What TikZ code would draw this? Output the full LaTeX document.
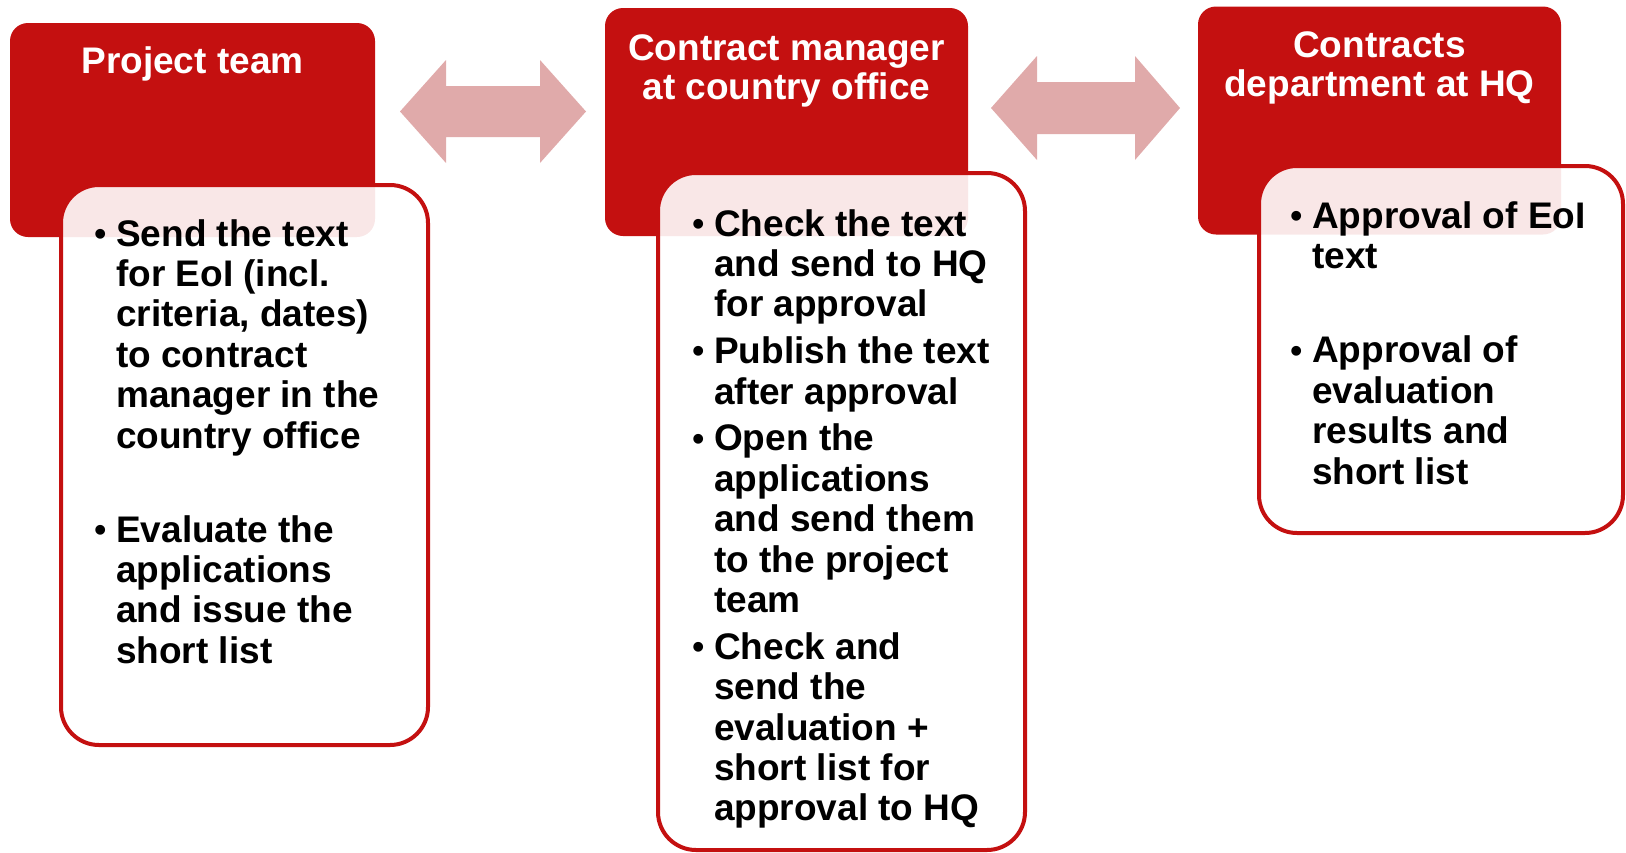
\documentclass[tikz,border=0pt]{standalone}
\usepackage{fontspec}
\setmainfont{Liberation Sans}
\definecolor{boxred}{RGB}{196,16,16}
\definecolor{arrowpink}{RGB}{224,170,170}
\newcommand\myhead[1]{\vtop{\halign{\hfil##\hfil\cr#1\crcr}}}
\newcommand\mybody[1]{\vtop{\halign{##\hfil\cr#1\crcr}}}
\newcommand\mybul{\llap{\raisebox{0.8pt}{\fontsize{34}{34}\selectfont\textbullet}\hskip 10pt}}
\begin{document}
\begin{tikzpicture}[x=1pt,y=-1pt,
  redbox/.style={fill=boxred, draw=none, rounded corners=18pt, inner sep=0pt},
  whitebox/.style={draw=boxred, line width=4pt, fill=white, fill opacity=0.9, draw opacity=1, rounded corners=38pt, inner sep=0pt},
  headtext/.style={inner sep=0pt, anchor=base, text=white, font=\bfseries\fontsize{37}{39}\selectfont},
  bodytext/.style={inner sep=0pt, anchor=base west, text=black, font=\bfseries\fontsize{37}{40.4}\selectfont},
  dblarrow/.style={fill=arrowpink, draw=none}]
\useasboundingbox (0,0) rectangle (1626,852);

% red header boxes
\node[redbox, minimum width=365pt, minimum height=214pt] (r1) at (192.5,130) {};
\node[redbox, minimum width=363pt, minimum height=228pt] (r2) at (786.5,122) {};
\node[redbox, minimum width=363pt, minimum height=228pt] (r3) at (1379.5,120.5) {};

% header texts
\node[headtext] (h1) at (192.5,73) {\myhead{Project team}};
\node[headtext] (h2) at (786.5,60) {\myhead{Contract manager\cr at country office}};
\node[headtext] (h3) at (1379.5,57) {\myhead{Contracts\cr department at HQ}};

% white boxes
\node[whitebox, minimum width=367pt, minimum height=560pt] (w1) at (244.5,465) {};
\node[whitebox, minimum width=367pt, minimum height=677pt] (w2) at (841.5,511.5) {};
\node[whitebox, minimum width=364pt, minimum height=367pt] (w3) at (1441,349.5) {};

% body texts
\node[bodytext] (b1) at (116,246) {\mybody{\mybul Send the text\cr for EoI (incl.\cr criteria, dates)\cr to contract\cr manager in the\cr country office\cr
\noalign{\vskip 53.6pt}
\mybul Evaluate the\cr applications\cr and issue the\cr short list}};
\node[bodytext] (b2) at (714,236) {\mybody{\mybul Check the text\cr and send to HQ\cr for approval\cr
\noalign{\vskip 6.4pt}
\mybul Publish the text\cr after approval\cr
\noalign{\vskip 6.4pt}
\mybul Open the\cr applications\cr and send them\cr to the project\cr team\cr
\noalign{\vskip 6.4pt}
\mybul Check and\cr send the\cr evaluation +\cr short list for\cr approval to HQ}};
\node[bodytext] (b3) at (1312,228) {\mybody{\mybul Approval of EoI\cr text\cr
\noalign{\vskip 54pt}
\mybul Approval of\cr evaluation\cr results and\cr short list}};

% double arrows
\fill[dblarrow] (400,111.5) -- (446,60) -- (446,86) -- (540,86) -- (540,60) -- (586,111.5) -- (540,163) -- (540,137) -- (446,137) -- (446,163) -- cycle;
\fill[dblarrow] (991,108) -- (1037,56) -- (1037,82) -- (1135,82) -- (1135,56) -- (1180,108) -- (1135,160) -- (1135,134) -- (1037,134) -- (1037,160) -- cycle;
\end{tikzpicture}
\end{document}
